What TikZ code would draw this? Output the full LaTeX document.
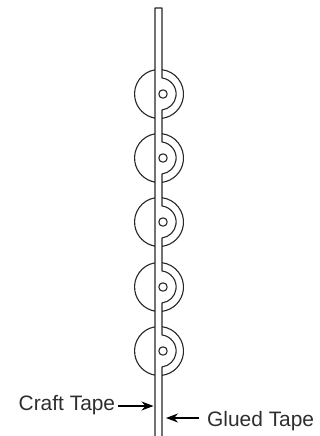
\documentclass[tikz,border=0pt]{standalone}
\usepackage{fontspec}
\setmainfont{Liberation Sans}
\usetikzlibrary{arrows.meta}
\tikzset{
  tapeline/.style={draw=black!85,line width=1.1pt,line join=round},
  label text/.style={inner sep=0pt,text=black!82,font=\fontsize{20.9}{24}\selectfont},
  pointer/.style={draw=black,line width=1.1pt,-{Stealth[length=12pt,width=9pt]}}
}
\begin{document}
\begin{tikzpicture}[x=1pt,y=-1pt]
\useasboundingbox (0,0) rectangle (320,436);
% tape outline
\draw[tapeline] (155,436) -- (155,8) -- (162,8)
  foreach \c in {94,158,222,287,351} {
    -- (162,\c-16) arc[start angle=-83,end angle=83,radius=16.1] -- (162,\c+16)
  } -- (162,436);
% outer discs and hubs
\foreach \c in {94,158,222,287,351} {
  \draw[tapeline] (155,\c-24.2) arc[start angle=-99.5,end angle=-260.5,radius=24.5];
  \draw[tapeline] (162,\c-24.3) arc[start angle=-83,end angle=83,radius=24.5];
  \draw[tapeline] (163,\c) circle[radius=4.2];
}
% labels
\node[label text,anchor=west] (craft) at (18.5,405.5) {Craft Tape};
\node[label text,anchor=west] (glued) at (207,421.5) {Glued Tape};
\coordinate (craftend) at (153.5,406);
\coordinate (gluedend) at (166,418);
\draw[pointer] (craft.east |- craftend) ++(3,0) coordinate (cs) -- (craftend);
\draw[pointer] (glued.west |- gluedend) ++(-8,0) coordinate (gs) -- (gluedend);
\end{tikzpicture}
\end{document}
